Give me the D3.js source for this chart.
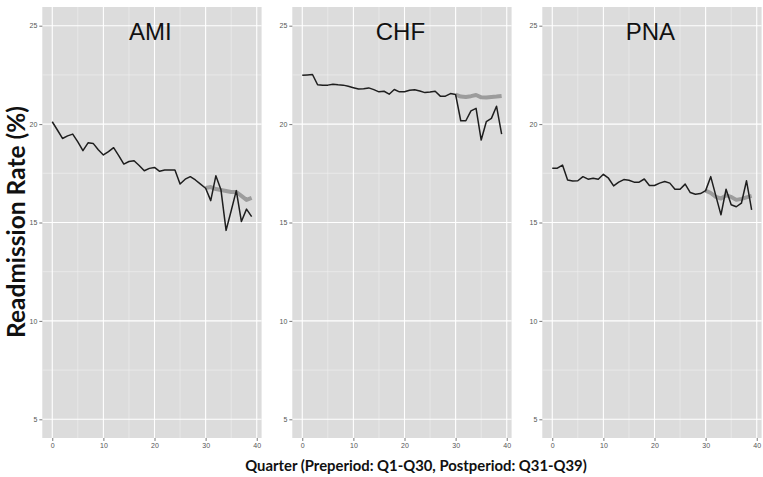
<!DOCTYPE html>
<html>
<head>
<meta charset="utf-8">
<script src="https://cdn.jsdelivr.net/npm/d3@7"></script>
<style>
  body { margin: 0; background: #fff; }
  svg { display: block; }
</style>
</head>
<body>
<div id="chart"></div>
<script>
// quarters 0..39, post period shown by the grey counterfactual line from 30
const quarters = d3.range(0, 40);
const postQuarters = d3.range(30, 40);
const panelNames = ["AMI", "CHF", "PNA"];

const amiObserved = [20.12, 19.7, 19.27, 19.4, 19.49, 19.1, 18.65, 19.05, 19.02, 18.7,
  18.43, 18.6, 18.8, 18.4, 17.97, 18.1, 18.14, 17.9, 17.63, 17.75,
  17.8, 17.6, 17.67, 17.67, 17.67, 16.96, 17.2, 17.33, 17.16, 16.95,
  16.74, 16.11, 17.37, 16.66, 14.6, 15.6, 16.62, 15.05, 15.68, 15.3];
const amiExpected = [16.75, 16.8, 16.7, 16.65, 16.6, 16.55, 16.55, 16.35, 16.15, 16.25];

const chfObserved = [22.48, 22.5, 22.52, 22.0, 21.98, 21.98, 22.03, 22.0, 21.98, 21.92,
  21.85, 21.78, 21.8, 21.84, 21.75, 21.64, 21.67, 21.52, 21.76, 21.64,
  21.64, 21.72, 21.74, 21.68, 21.6, 21.63, 21.67, 21.42, 21.42, 21.55,
  21.5, 20.17, 20.17, 20.67, 20.8, 19.19, 20.12, 20.29, 20.91, 19.49];
const chfExpected = [21.5, 21.4, 21.38, 21.42, 21.48, 21.36, 21.35, 21.38, 21.4, 21.43];

const pnaObserved = [17.76, 17.76, 17.92, 17.16, 17.11, 17.12, 17.33, 17.2, 17.25, 17.2,
  17.45, 17.25, 16.86, 17.05, 17.18, 17.15, 17.05, 17.05, 17.21, 16.88,
  16.88, 17.0, 17.08, 17.0, 16.69, 16.69, 16.95, 16.52, 16.44, 16.47,
  16.62, 17.33, 16.35, 15.39, 16.69, 15.9, 15.8, 15.98, 17.12, 15.64];
const pnaExpected = [16.62, 16.5, 16.3, 16.22, 16.38, 16.3, 16.15, 16.2, 16.28, 16.35];

const xTicks = [0, 10, 20, 30, 40];
const xMinor = [5, 15, 25, 35];
const yTicks = [5, 10, 15, 20, 25];
const yMinor = [7.5, 12.5, 17.5, 22.5];

const observed = [amiObserved, chfObserved, pnaObserved];
const expected = [amiExpected, chfExpected, pnaExpected];

const W = 763, H = 477;
const panelLeft = 42.3, panelStep = 250, panelW = 219.3;
const panelTop = 7, panelBottom = 438;

const svg = d3.select("#chart").append("svg")
  .attr("width", W)
  .attr("height", H);

const y = d3.scaleLinear()
  .domain([4.05, 25.95])
  .range([panelBottom, panelTop]);

const line = d3.line()
  .x(d => d[0])
  .y(d => d[1]);

panelNames.forEach((name, k) => {
  const x0 = panelLeft + k * panelStep;
  const x = d3.scaleLinear()
    .domain([-1.95, 40.95])
    .range([x0, x0 + panelW]);

  const g = svg.append("g");

  g.append("rect")
    .attr("x", x0).attr("y", panelTop)
    .attr("width", panelW).attr("height", panelBottom - panelTop)
    .attr("fill", "#dcdcdc");

  // minor grid
  g.selectAll(".xminor").data(xMinor).enter().append("line")
    .attr("x1", d => x(d)).attr("x2", d => x(d))
    .attr("y1", panelTop).attr("y2", panelBottom)
    .attr("stroke", "#f0f0f0").attr("stroke-width", 0.6);
  g.selectAll(".yminor").data(yMinor).enter().append("line")
    .attr("x1", x0).attr("x2", x0 + panelW)
    .attr("y1", d => y(d)).attr("y2", d => y(d))
    .attr("stroke", "#f0f0f0").attr("stroke-width", 0.6);
  // major grid
  g.selectAll(".xmajor").data(xTicks).enter().append("line")
    .attr("x1", d => x(d)).attr("x2", d => x(d))
    .attr("y1", panelTop).attr("y2", panelBottom)
    .attr("stroke", "#fff").attr("stroke-width", 1.1);
  g.selectAll(".ymajor").data(yTicks).enter().append("line")
    .attr("x1", x0).attr("x2", x0 + panelW)
    .attr("y1", d => y(d)).attr("y2", d => y(d))
    .attr("stroke", "#fff").attr("stroke-width", 1.1);

  // axes
  const ax = g.append("g")
    .attr("transform", "translate(0," + panelBottom + ")")
    .call(d3.axisBottom(x).tickValues(xTicks).tickSize(3).tickPadding(2));
  const ay = g.append("g")
    .attr("transform", "translate(" + x0 + ",0)")
    .call(d3.axisLeft(y).tickValues(yTicks).tickSize(3).tickPadding(2));
  [ax, ay].forEach(a => {
    a.select(".domain").remove();
    a.selectAll(".tick line").attr("stroke", "#555").attr("stroke-width", 0.8);
    a.selectAll(".tick text")
      .attr("fill", "#555")
      .style("font-family", "Liberation Sans, Arial, sans-serif")
      .style("font-size", "7px");
  });

  // counterfactual (thick grey), then observed (black)
  g.append("path")
    .datum(postQuarters.map((q, i) => [x(q), y(expected[k][i])]))
    .attr("d", line)
    .attr("fill", "none")
    .attr("stroke", "#9c9c9c")
    .attr("stroke-width", 4)
    .attr("stroke-linejoin", "round");

  g.append("path")
    .datum(quarters.map((q, i) => [x(q), y(observed[k][i])]))
    .attr("d", line)
    .attr("fill", "none")
    .attr("stroke", "#1e1e1e")
    .attr("stroke-width", 1.5)
    .attr("stroke-linejoin", "round");

  g.append("text")
    .attr("x", x(19.2))
    .attr("y", 40)
    .attr("text-anchor", "middle")
    .style("font-family", "Liberation Sans, Arial, sans-serif")
    .style("font-size", "24px")
    .attr("fill", "#111")
    .text(name);
});

// fit a label to the width it has in the reference
function fitText(sel, target) {
  const size = parseFloat(sel.style("font-size"));
  const len = sel.node().getComputedTextLength();
  sel.style("font-size", (size * target / len) + "px");
}

const yLab = svg.append("text")
  .attr("transform", "translate(19,222) rotate(-90)")
  .attr("text-anchor", "middle")
  .attr("dominant-baseline", "middle")
  .style("font-family", "Lato, sans-serif")
  .style("font-weight", "bold")
  .style("font-size", "20px")
  .attr("fill", "#111")
  .text("Readmission Rate (%)");
fitText(yLab, 232);

const xLab = svg.append("text")
  .attr("x", 416)
  .attr("y", 471)
  .attr("text-anchor", "middle")
  .style("font-family", "Lato, sans-serif")
  .style("font-weight", "bold")
  .style("font-size", "14px")
  .attr("fill", "#111")
  .text("Quarter (Preperiod: Q1-Q30, Postperiod: Q31-Q39)");
fitText(xLab, 342);
</script>
</body>
</html>
